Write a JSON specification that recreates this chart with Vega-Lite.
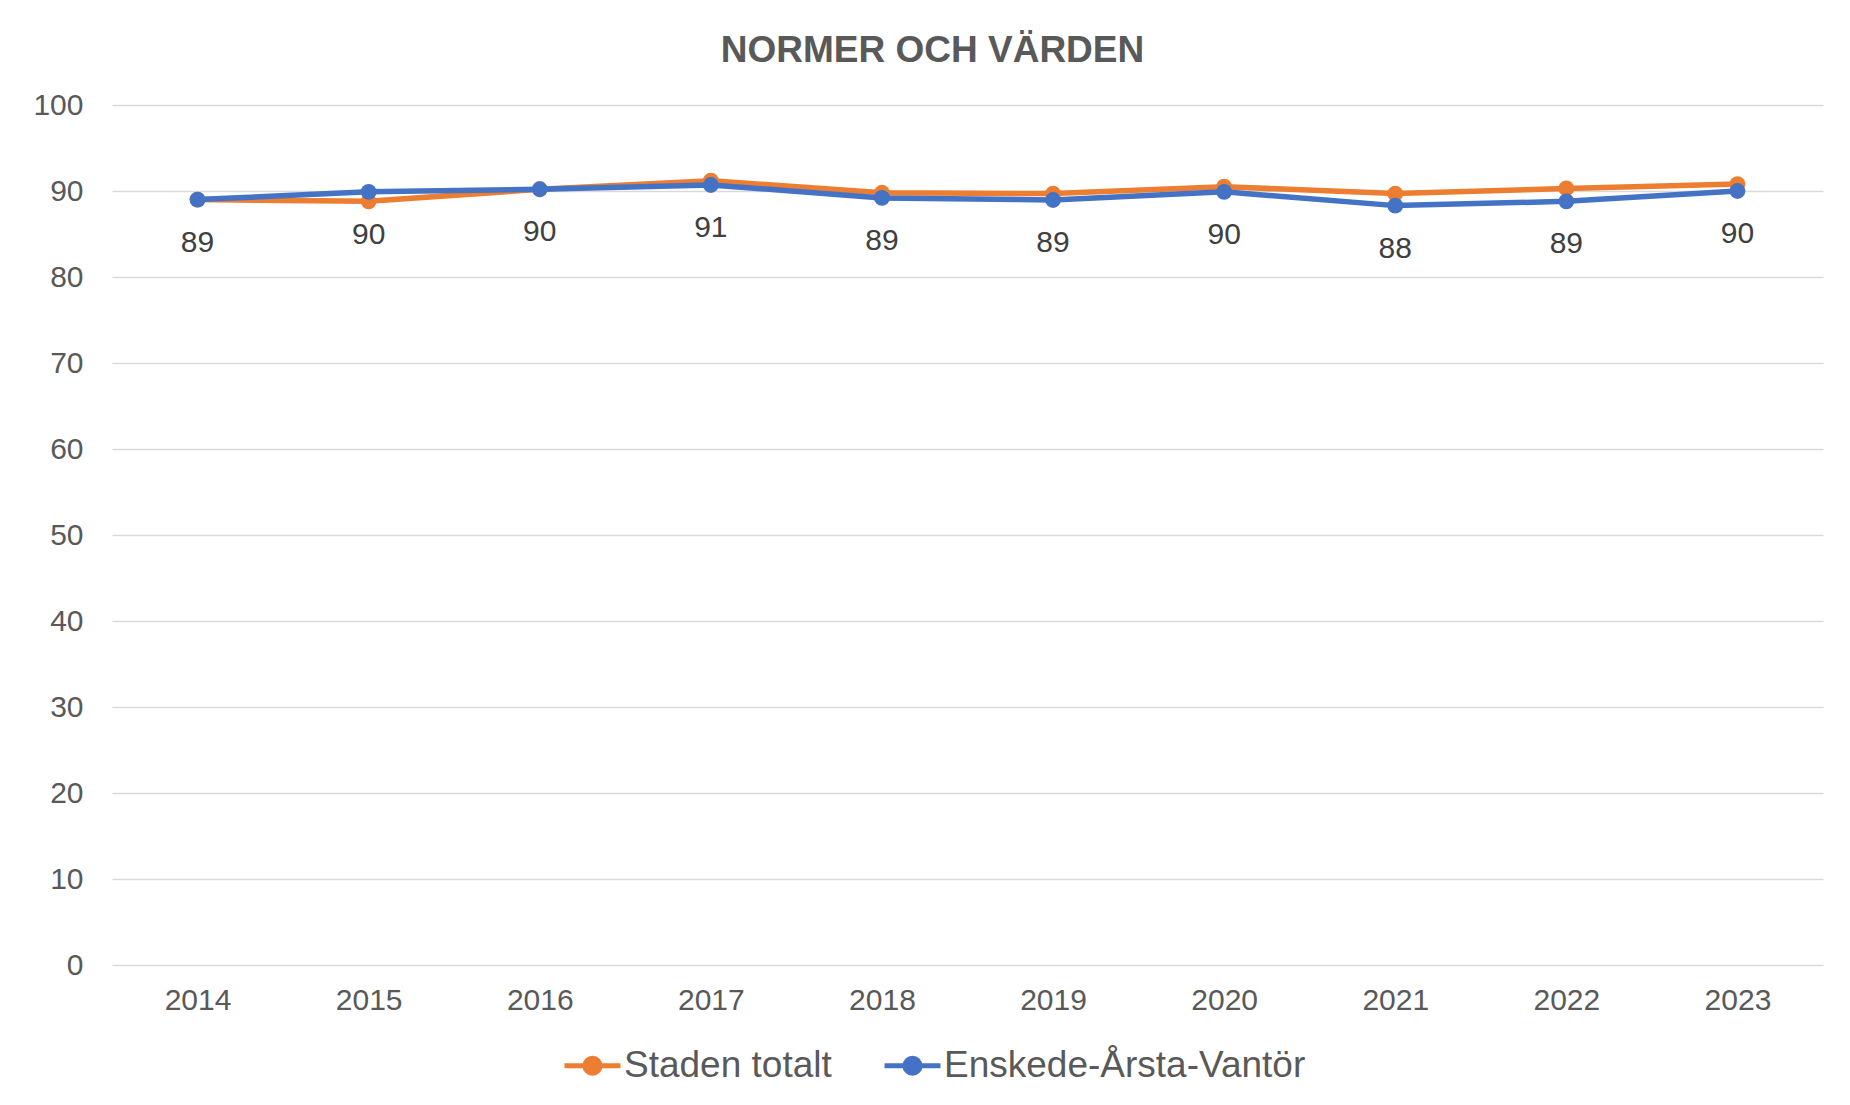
{
  "$schema": "https://vega.github.io/schema/vega-lite/v6.json",
  "width": 1711,
  "height": 860,
  "autosize": {"type": "none"},
  "padding": {"left": 112, "top": 105, "right": 27, "bottom": 140},
  "background": "white",
  "config": {"view": {"stroke": null}},
  "title": {
    "text": "NORMER OCH VÄRDEN",
    "font": "Liberation Sans",
    "fontSize": 37,
    "fontWeight": "bold",
    "color": "#595959",
    "dx": -35,
    "dy": 53,
    "offset": 36,
    "baseline": "bottom"
  },
  "data": {
    "values": [
      {"year": "2014", "series": "Staden totalt", "value": 89.0},
      {"year": "2015", "series": "Staden totalt", "value": 88.8},
      {"year": "2016", "series": "Staden totalt", "value": 90.2},
      {"year": "2017", "series": "Staden totalt", "value": 91.2},
      {"year": "2018", "series": "Staden totalt", "value": 89.8},
      {"year": "2019", "series": "Staden totalt", "value": 89.7},
      {"year": "2020", "series": "Staden totalt", "value": 90.5},
      {"year": "2021", "series": "Staden totalt", "value": 89.7},
      {"year": "2022", "series": "Staden totalt", "value": 90.3},
      {"year": "2023", "series": "Staden totalt", "value": 90.8},
      {"year": "2014", "series": "Enskede-Årsta-Vantör", "value": 89.0},
      {"year": "2015", "series": "Enskede-Årsta-Vantör", "value": 89.9},
      {"year": "2016", "series": "Enskede-Årsta-Vantör", "value": 90.2},
      {"year": "2017", "series": "Enskede-Årsta-Vantör", "value": 90.7},
      {"year": "2018", "series": "Enskede-Årsta-Vantör", "value": 89.2},
      {"year": "2019", "series": "Enskede-Årsta-Vantör", "value": 88.95},
      {"year": "2020", "series": "Enskede-Årsta-Vantör", "value": 89.9},
      {"year": "2021", "series": "Enskede-Årsta-Vantör", "value": 88.3},
      {"year": "2022", "series": "Enskede-Årsta-Vantör", "value": 88.8},
      {"year": "2023", "series": "Enskede-Årsta-Vantör", "value": 90.0}
    ]
  },
  "encoding": {
    "x": {
      "field": "year",
      "type": "ordinal",
      "scale": {"type": "point", "padding": 0.5},
      "axis": {
        "title": null,
        "labelAngle": 0,
        "labelFont": "Liberation Sans",
        "labelFontSize": 30,
        "labelColor": "#595959",
        "ticks": false,
        "domain": false,
        "grid": false,
        "labelPadding": 20
      }
    },
    "y": {
      "field": "value",
      "type": "quantitative",
      "scale": {"domain": [0, 100], "nice": false},
      "axis": {
        "title": null,
        "values": [0, 10, 20, 30, 40, 50, 60, 70, 80, 90, 100],
        "labelFont": "Liberation Sans",
        "labelFontSize": 30,
        "labelColor": "#595959",
        "ticks": false,
        "domain": false,
        "grid": true,
        "gridColor": "#d9d9d9",
        "gridWidth": 1.5,
        "labelPadding": 29
      }
    }
  },
  "layer": [
    {
      "transform": [{"filter": "datum.series === 'Staden totalt'"}],
      "mark": {"type": "line", "strokeWidth": 5.5, "point": {"filled": true, "size": 250}},
      "encoding": {
        "color": {
          "field": "series",
          "type": "nominal",
          "scale": {"domain": ["Staden totalt", "Enskede-Årsta-Vantör"], "range": ["#ED7D31", "#4472C4"]},
          "legend": {
            "orient": "none",
            "legendX": 450,
            "legendY": 930,
            "direction": "horizontal",
            "title": null,
            "labelFont": "Liberation Sans",
            "labelFontSize": 37,
            "labelColor": "#595959",
            "labelLimit": 1000,
            "labelOffset": 1,
            "columnPadding": 42,
            "symbolType": "M-1,0L1,0M-0.27,0A0.27,0.27,0,1,0,0.27,0A0.27,0.27,0,1,0,-0.27,0Z",
            "symbolSize": 3136,
            "symbolStrokeWidth": 5,
            "encode": {"symbols": {"update": {"fill": {"scale": "color", "field": "value"}, "fillOpacity": {"value": 1}, "opacity": {"value": 1}}}}
          }
        }
      }
    },
    {
      "transform": [{"filter": "datum.series !== 'Staden totalt'"}],
      "mark": {"type": "line", "strokeWidth": 5.5, "point": {"filled": true, "size": 250}},
      "encoding": {
        "color": {
          "field": "series",
          "type": "nominal",
          "scale": {"domain": ["Staden totalt", "Enskede-Årsta-Vantör"], "range": ["#ED7D31", "#4472C4"]}
        }
      }
    },
    {
      "transform": [{"filter": "datum.series !== 'Staden totalt'"}],
      "mark": {"type": "text", "dy": 43, "baseline": "middle", "font": "Liberation Sans", "fontSize": 30, "color": "#404040"},
      "encoding": {
        "text": {"field": "value", "type": "quantitative", "format": ".0f"}
      }
    }
  ]
}
